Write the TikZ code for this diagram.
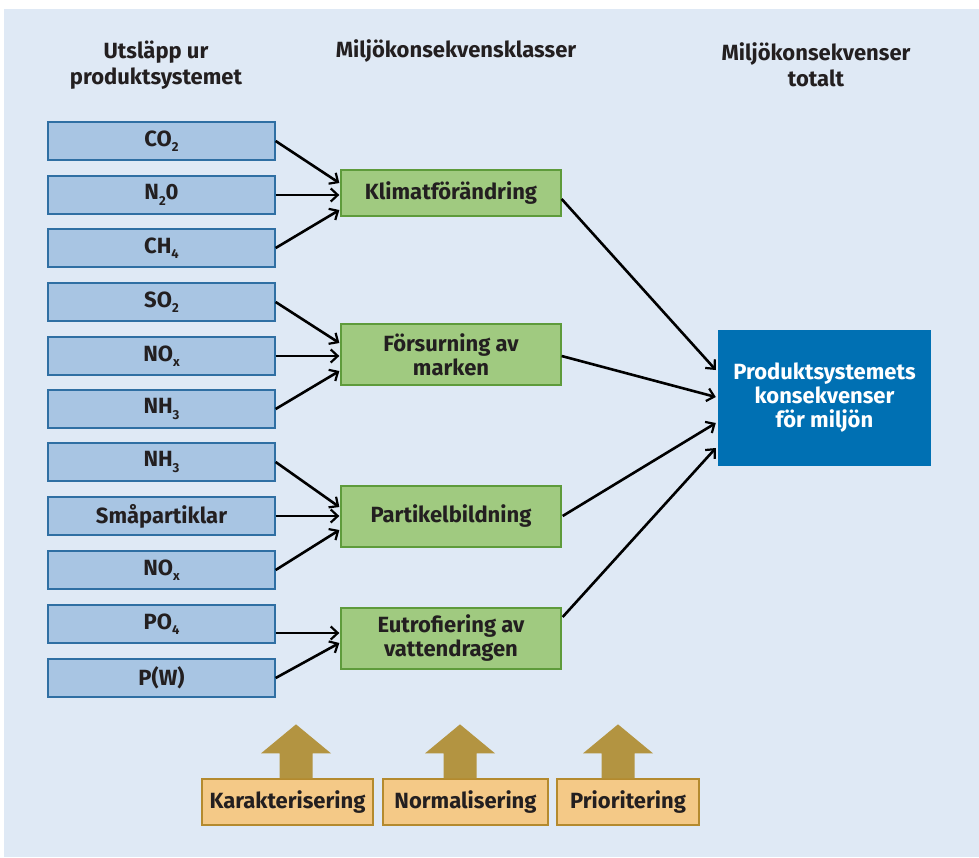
\documentclass[tikz,border=0pt]{standalone}
\usepackage{fontspec}
\setmainfont{Fira Sans}
\usetikzlibrary{arrows.meta,calc}

\definecolor{bakgrund}{HTML}{DFE9F5}
\definecolor{textmork}{HTML}{231F20}
\definecolor{utslappfyll}{HTML}{A8C5E3}
\definecolor{utslappkant}{HTML}{2F6FA3}
\definecolor{klassfyll}{HTML}{A0CA80}
\definecolor{klasskant}{HTML}{5E9B3B}
\definecolor{totalblå}{HTML}{0070B3}
\definecolor{metodfyll}{HTML}{F4C987}
\definecolor{metodkant}{HTML}{B48A2E}
\definecolor{pilbrun}{HTML}{B39441}

\newcommand{\kemsub}[1]{\raisebox{-0.45ex}{\fontsize{13}{13}\selectfont #1}}
% uppåtpil ovanför en metodruta
\newcommand{\metodpil}[2]{%
  \fill[pilbrun] ($(#1.north)+(#2,0)$) ++(-16.5,0) -- ++(0,-25) -- ++(-18.5,0)
    -- ++(35,-29) -- ++(35,29) -- ++(-18.5,0) -- ++(0,25) -- cycle;}

\begin{document}
\begin{tikzpicture}[x=1pt, y=-1pt,
    every node/.style={font=\fontsize{22}{24}\selectfont\bfseries, text=textmork, inner sep=0pt},
    utslapp/.style={draw=utslappkant, fill=utslappfyll, line width=1.3pt,
        minimum width=227pt, minimum height=38pt},
    klass/.style={draw=klasskant, fill=klassfyll, line width=1.3pt, align=center,
        minimum width=220pt, minimum height=61pt},
    total/.style={fill=totalblå, text=white, align=center,
        minimum width=213pt, minimum height=136pt},
    metod/.style={draw=metodkant, fill=metodfyll, line width=1.3pt, minimum height=46pt},
    rubrik/.style={align=center, font=\fontsize{22}{26}\selectfont\bfseries},
    pil/.style={line width=2.6pt, -{Straight Barb[length=7pt, width=13pt, line width=2.2pt]}}]

    \useasboundingbox (0,0) rectangle (979,857);
    \fill[bakgrund] (4,9) rectangle (979,857);

    % rubriker
    \node[rubrik] (rutslapp) at (156,65) {Utsläpp ur\\produktsystemet};
    \node[rubrik] (rklasser) at (456,51) {Miljökonsekvensklasser};
    \node[rubrik] (rtotalt) at (816,65) {Miljökonsekvenser\\totalt};

    % utsläpp
    \node[utslapp] (co2) at (161.5,141) {CO\kemsub{2}};
    \node[utslapp] (n2o) at (161.5,195) {N\kemsub{2}0};
    \node[utslapp] (ch4) at (161.5,248) {CH\kemsub{4}};
    \node[utslapp] (so2) at (161.5,302) {SO\kemsub{2}};
    \node[utslapp] (noxa) at (161.5,356) {NO\kemsub{x}};
    \node[utslapp] (nhtrea) at (161.5,409) {NH\kemsub{3}};
    \node[utslapp] (nhtreb) at (161.5,462) {NH\kemsub{3}};
    \node[utslapp] (partiklar) at (161.5,516) {Småpartiklar};
    \node[utslapp] (noxb) at (161.5,570) {NO\kemsub{x}};
    \node[utslapp] (po4) at (161.5,624) {PO\kemsub{4}};
    \node[utslapp] (pw) at (161.5,678) {P(W)};

    % miljökonsekvensklasser
    \node[klass, minimum height=46pt] (klimat) at (451,193) {Klimatförändring};
    \node[klass] (forsurning) at (451,354.5) {Försurning av\\marken};
    \node[klass] (partikel) at (451,516.5) {Partikelbildning};
    \node[klass] (eutro) at (451,638.5) {Eutrofiering av\\vattendragen};

    % totalt
    \node[total] (totalt) at (824.5,398) {Produktsystemets\\konsekvenser\\för miljön};

    % utsläpp -> klasser
    \draw[pil] (co2.east) -- ($(klimat.west)+(-1,-10)$);
    \draw[pil] (n2o.east) -- ($(n2o.east -| klimat.west)+(-1,0)$);
    \draw[pil] (ch4.east) -- ($(klimat.west)+(-1,17)$);
    \draw[pil] (so2.east) -- ($(forsurning.west)+(-1,-11.5)$);
    \draw[pil] (noxa.east) -- ($(noxa.east -| forsurning.west)+(-1,0)$);
    \draw[pil] (nhtrea.east) -- ($(forsurning.west)+(-1,16.5)$);
    \draw[pil] (nhtreb.east) -- ($(partikel.west)+(-1,-9.5)$);
    \draw[pil] (partiklar.east) -- ($(partiklar.east -| partikel.west)+(-1,0)$);
    \draw[pil] (noxb.east) -- ($(partikel.west)+(-1,13.5)$);
    \draw[pil] ($(po4.east)+(0,9)$) -- ($(po4.east -| eutro.west)+(-1,9)$);
    \draw[pil] (pw.east) -- ($(eutro.west)+(-1,4.5)$);

    % klasser -> totalt
    \draw[pil] ($(klimat.east)+(0,6)$) -- ($(totalt.west)+(-2,-28)$);
    \draw[pil] ($(forsurning.east)+(0,1.5)$) -- ($(totalt.west)+(-2,-1)$);
    \draw[pil] ($(partikel.east)+(1,-0.5)$) -- ($(totalt.west)+(-2,25)$);
    \draw[pil] ($(eutro.east)+(1,-21.5)$) -- ($(totalt.west)+(-2,50)$);

    % metodsteg
    \node[metod, minimum width=171pt] (karakt) at (287.5,802) {Karakterisering};
    \node[metod, minimum width=165pt] (normal) at (465.5,802) {Normalisering};
    \node[metod, minimum width=142pt] (prio) at (628,802) {Prioritering};
    \metodpil{karakt}{8.5}
    \metodpil{normal}{-5.5}
    \metodpil{prio}{-10}
\end{tikzpicture}
\end{document}
